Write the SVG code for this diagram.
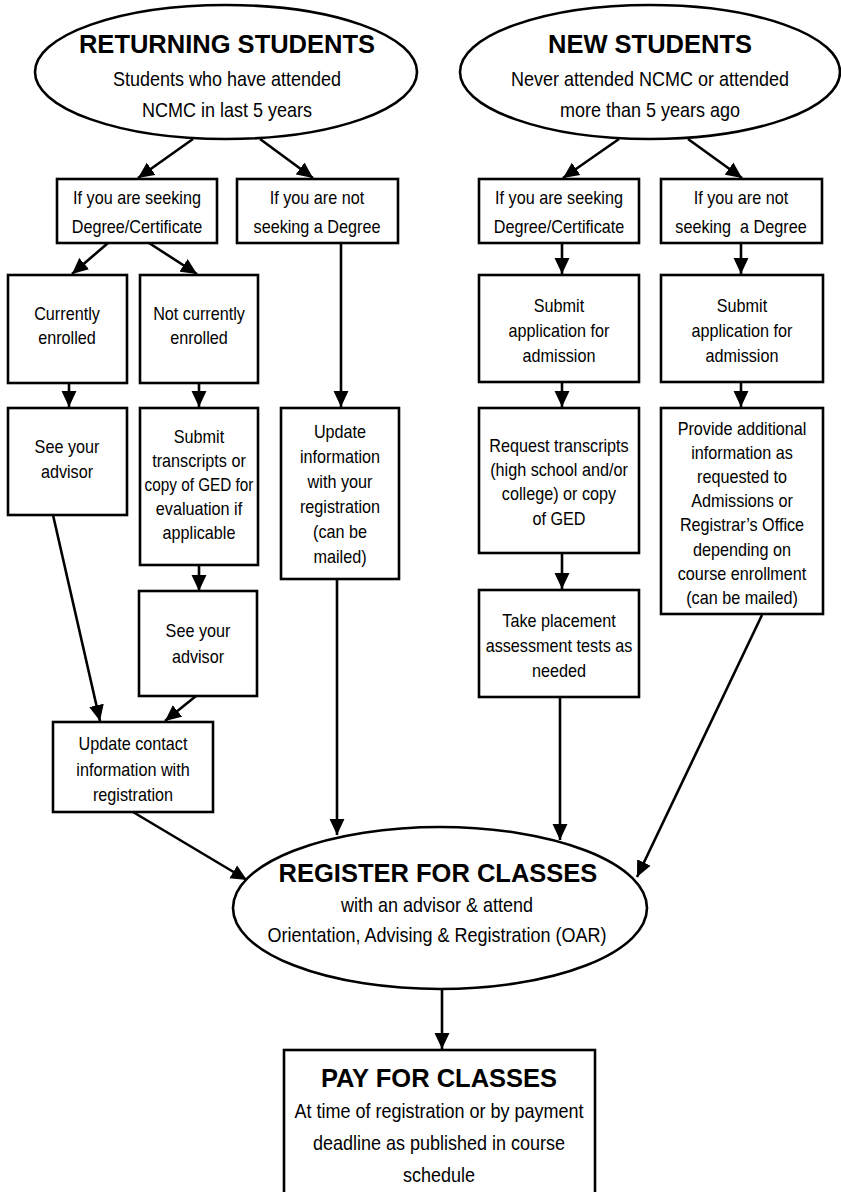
<svg xmlns="http://www.w3.org/2000/svg" width="841" height="1192" viewBox="0 0 841 1192">
<style>
.shape{fill:#fff;stroke:#000;stroke-width:2.6}
.con{fill:none;stroke:#000;stroke-width:2.6}
.t{font-family:"Liberation Sans",Arial,sans-serif;font-size:18px;text-anchor:middle;fill:#000}
.b{font-family:"Liberation Sans",Arial,sans-serif;font-size:20px;text-anchor:middle;fill:#000}
.h{font-family:"Liberation Sans",Arial,sans-serif;font-size:25.5px;font-weight:bold;text-anchor:middle;fill:#000}
</style>
<defs>
<marker id="arr" markerUnits="userSpaceOnUse" markerWidth="16" markerHeight="16" viewBox="0 0 15 14" refX="15" refY="7" orient="auto">
<path d="M0,0 L15,7 L0,14 z" fill="#000"/>
</marker>
</defs>
<rect width="841" height="1192" fill="#fff"/>
<g id="connectors">
<line class="con" x1="193" y1="139" x2="138" y2="178" marker-end="url(#arr)"/>
<line class="con" x1="260" y1="139" x2="313" y2="178" marker-end="url(#arr)"/>
<line class="con" x1="619" y1="139" x2="563" y2="178" marker-end="url(#arr)"/>
<line class="con" x1="688" y1="139" x2="742" y2="178" marker-end="url(#arr)"/>
<line class="con" x1="108" y1="243" x2="72" y2="274" marker-end="url(#arr)"/>
<line class="con" x1="149" y1="243" x2="197" y2="274" marker-end="url(#arr)"/>
<line class="con" x1="341" y1="243" x2="341" y2="407" marker-end="url(#arr)"/>
<line class="con" x1="562" y1="243" x2="562" y2="274" marker-end="url(#arr)"/>
<line class="con" x1="741" y1="243" x2="741" y2="274" marker-end="url(#arr)"/>
<line class="con" x1="69" y1="383" x2="69" y2="407" marker-end="url(#arr)"/>
<line class="con" x1="199" y1="383" x2="199" y2="407" marker-end="url(#arr)"/>
<line class="con" x1="562" y1="382" x2="562" y2="407" marker-end="url(#arr)"/>
<line class="con" x1="741" y1="382" x2="741" y2="407" marker-end="url(#arr)"/>
<line class="con" x1="199" y1="565" x2="199" y2="591" marker-end="url(#arr)"/>
<line class="con" x1="562" y1="553" x2="562" y2="589" marker-end="url(#arr)"/>
<line class="con" x1="53" y1="515" x2="100" y2="721" marker-end="url(#arr)"/>
<line class="con" x1="196" y1="696" x2="165" y2="721" marker-end="url(#arr)"/>
<line class="con" x1="133" y1="812" x2="247" y2="880" marker-end="url(#arr)"/>
<line class="con" x1="337" y1="579" x2="337" y2="835" marker-end="url(#arr)"/>
<line class="con" x1="560" y1="697" x2="560" y2="840" marker-end="url(#arr)"/>
<line class="con" x1="762" y1="615" x2="637" y2="877" marker-end="url(#arr)"/>
<line class="con" x1="442" y1="989" x2="442" y2="1049" marker-end="url(#arr)"/>
</g>
<g id="returning">
<ellipse class="shape" cx="226" cy="72" rx="191" ry="67"/>
<text class="h" x="227" y="53">RETURNING STUDENTS</text>
<g transform="translate(227,0) scale(0.9,1)"><text class="b" x="0" y="86">Students who have attended</text><text class="b" x="0" y="117">NCMC in last 5 years</text></g>
</g>
<g id="new">
<ellipse class="shape" cx="650" cy="72" rx="190" ry="67"/>
<text class="h" x="650" y="53">NEW STUDENTS</text>
<g transform="translate(650,0) scale(0.9,1)"><text class="b" x="0" y="86">Never attended NCMC or attended</text><text class="b" x="0" y="117">more than 5 years ago</text></g>
</g>
<g id="r-seeking">
<rect class="shape" x="57" y="179" width="160" height="64"/>
<g transform="translate(137,0) scale(0.9,1)"><text class="t" x="0" y="204">If you are seeking</text><text class="t" x="0" y="233">Degree/Certificate</text></g>
</g>
<g id="r-not-seeking">
<rect class="shape" x="237" y="179" width="161" height="64"/>
<g transform="translate(317,0) scale(0.9,1)"><text class="t" x="0" y="204">If you are not</text><text class="t" x="0" y="233">seeking a Degree</text></g>
</g>
<g id="n-seeking">
<rect class="shape" x="479" y="179" width="160" height="64"/>
<g transform="translate(559,0) scale(0.9,1)"><text class="t" x="0" y="204">If you are seeking</text><text class="t" x="0" y="233">Degree/Certificate</text></g>
</g>
<g id="n-not-seeking">
<rect class="shape" x="661" y="179" width="161" height="64"/>
<g transform="translate(741,0) scale(0.9,1)"><text class="t" x="0" y="204">If you are not</text><text class="t" x="0" y="233" xml:space="preserve">seeking  a Degree</text></g>
</g>
<g id="currently">
<rect class="shape" x="8" y="275" width="119" height="108"/>
<g transform="translate(67,0) scale(0.9,1)"><text class="t" x="0" y="320">Currently</text><text class="t" x="0" y="344">enrolled</text></g>
</g>
<g id="not-currently">
<rect class="shape" x="140" y="275" width="118" height="108"/>
<g transform="translate(199,0) scale(0.9,1)"><text class="t" x="0" y="320">Not currently</text><text class="t" x="0" y="344">enrolled</text></g>
</g>
<g id="advisor1">
<rect class="shape" x="8" y="408" width="119" height="107"/>
<g transform="translate(67,0) scale(0.9,1)"><text class="t" x="0" y="453">See your</text><text class="t" x="0" y="478">advisor</text></g>
</g>
<g id="transcripts">
<rect class="shape" x="140" y="408" width="118" height="157"/>
<g transform="translate(199,0) scale(0.9,1)"><text class="t" x="0" y="443">Submit</text><text class="t" x="0" y="467">transcripts or</text><text class="t" x="0" y="491" textLength="121" lengthAdjust="spacingAndGlyphs">copy of GED for</text><text class="t" x="0" y="515">evaluation if</text><text class="t" x="0" y="539">applicable</text></g>
</g>
<g id="update-info">
<rect class="shape" x="281" y="408" width="118" height="171"/>
<g transform="translate(340,0) scale(0.9,1)"><text class="t" x="0" y="438">Update</text><text class="t" x="0" y="463">information</text><text class="t" x="0" y="488">with your</text><text class="t" x="0" y="513">registration</text><text class="t" x="0" y="538">(can be</text><text class="t" x="0" y="563">mailed)</text></g>
</g>
<g id="advisor2">
<rect class="shape" x="139" y="591" width="118" height="105"/>
<g transform="translate(198,0) scale(0.9,1)"><text class="t" x="0" y="637">See your</text><text class="t" x="0" y="663">advisor</text></g>
</g>
<g id="update-contact">
<rect class="shape" x="53" y="722" width="160" height="90"/>
<g transform="translate(133,0) scale(0.9,1)"><text class="t" x="0" y="750">Update contact</text><text class="t" x="0" y="776">information with</text><text class="t" x="0" y="801">registration</text></g>
</g>
<g id="n-submit1">
<rect class="shape" x="479" y="275" width="160" height="107"/>
<g transform="translate(559,0) scale(0.9,1)"><text class="t" x="0" y="312">Submit</text><text class="t" x="0" y="337">application for</text><text class="t" x="0" y="362">admission</text></g>
</g>
<g id="n-submit2">
<rect class="shape" x="661" y="275" width="162" height="107"/>
<g transform="translate(742,0) scale(0.9,1)"><text class="t" x="0" y="312">Submit</text><text class="t" x="0" y="337">application for</text><text class="t" x="0" y="362">admission</text></g>
</g>
<g id="request">
<rect class="shape" x="479" y="408" width="160" height="145"/>
<g transform="translate(559,0) scale(0.9,1)"><text class="t" x="0" y="452">Request transcripts</text><text class="t" x="0" y="476">(high school and/or</text><text class="t" x="0" y="500">college) or copy</text><text class="t" x="0" y="525">of GED</text></g>
</g>
<g id="provide">
<rect class="shape" x="661" y="408" width="162" height="206"/>
<g transform="translate(742,0) scale(0.9,1)"><text class="t" x="0" y="435">Provide additional</text><text class="t" x="0" y="459">information as</text><text class="t" x="0" y="483">requested to</text><text class="t" x="0" y="507">Admissions or</text><text class="t" x="0" y="531">Registrar’s Office</text><text class="t" x="0" y="556">depending on</text><text class="t" x="0" y="580">course enrollment</text><text class="t" x="0" y="604">(can be mailed)</text></g>
</g>
<g id="placement">
<rect class="shape" x="479" y="590" width="160" height="107"/>
<g transform="translate(559,0) scale(0.9,1)"><text class="t" x="0" y="627">Take placement</text><text class="t" x="0" y="652">assessment tests as</text><text class="t" x="0" y="677">needed</text></g>
</g>
<g id="register">
<ellipse class="shape" cx="440" cy="908" rx="207" ry="81"/>
<text class="h" x="438" y="882">REGISTER FOR CLASSES</text>
<g transform="translate(437,0) scale(0.9,1)"><text class="b" x="0" y="912">with an advisor &amp; attend</text><text class="b" x="0" y="942">Orientation, Advising &amp; Registration (OAR)</text></g>
</g>
<g id="pay">
<rect class="shape" x="284" y="1050" width="311" height="160"/>
<text class="h" x="439" y="1087">PAY FOR CLASSES</text>
<g transform="translate(439,0) scale(0.9,1)"><text class="b" x="0" y="1118">At time of registration or by payment</text><text class="b" x="0" y="1150">deadline as published in course</text><text class="b" x="0" y="1182">schedule</text></g>
</g>
</svg>
